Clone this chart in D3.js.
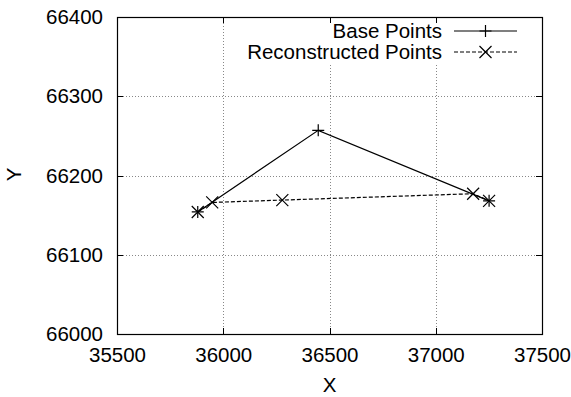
<!DOCTYPE html>
<html>
<head>
<meta charset="utf-8">
<script src="https://cdn.jsdelivr.net/npm/d3@7"></script>
<style>
  body { margin: 0; background: #fff; }
  svg { display: block; font-family: "Liberation Sans", Arial, sans-serif; }
</style>
</head>
<body>
<div id="chart"></div>
<script>
// base points (solid, "+")
var baseX = [35880, 36447, 37251];
var baseY = [66154, 66257, 66168];
// reconstructed points (dashed, "x")
var reconX = [35880, 35948, 36278, 37176, 37251];
var reconY = [66154, 66166, 66169, 66177, 66168];

var xTicks = [35500, 36000, 36500, 37000, 37500];
var yTicks = [66000, 66100, 66200, 66300, 66400];
var seriesNames = ["Base Points", "Reconstructed Points"];

var W = 571, H = 397;
var margin = {top: 17, right: 29, bottom: 63, left: 117},
    width = W - margin.left - margin.right,
    height = H - margin.top - margin.bottom;

var svg = d3.select("#chart").append("svg")
    .attr("width", W)
    .attr("height", H);

var g = svg.append("g")
    .attr("transform", "translate(" + margin.left + "," + margin.top + ")");

var x = d3.scaleLinear().domain([35500, 37500]).range([0, width]);
var y = d3.scaleLinear().domain([66000, 66400]).range([height, 0]);

// grid
g.append("g").selectAll("line")
    .data(xTicks.slice(1, -1))
    .enter().append("line")
    .attr("x1", function(d) { return Math.round(x(d)) + 0.5; })
    .attr("x2", function(d) { return Math.round(x(d)) + 0.5; })
    .attr("y1", 0).attr("y2", height)
    .attr("stroke", "#888").attr("stroke-dasharray", "1,2");
g.append("g").selectAll("line")
    .data(yTicks.slice(1, -1))
    .enter().append("line")
    .attr("y1", function(d) { return Math.round(y(d)) + 0.5; })
    .attr("y2", function(d) { return Math.round(y(d)) + 0.5; })
    .attr("x1", 0).attr("x2", width)
    .attr("stroke", "#888").attr("stroke-dasharray", "1,2");

// legend background (grid hidden behind key)
g.append("rect")
    .attr("x", 118).attr("y", 1)
    .attr("width", width - 120).attr("height", 46)
    .attr("fill", "#fff");

// axes: labels outside, ticks inward
var xAxis = d3.axisBottom(x).tickValues(xTicks).tickSize(0).tickPadding(13).tickFormat(d3.format("d"));
var yAxis = d3.axisLeft(y).tickValues(yTicks).tickSize(0).tickPadding(14).tickFormat(d3.format("d"));

g.append("g").attr("transform", "translate(0," + height + ")").call(xAxis)
    .call(function(s) { s.select(".domain").remove(); })
    .selectAll("text").style("font-size", "20.5px").attr("fill", "#000")
    .attr("font-family", "Liberation Sans, Arial, sans-serif");
g.append("g").call(yAxis)
    .call(function(s) { s.select(".domain").remove(); })
    .selectAll("text").style("font-size", "20.5px").attr("fill", "#000")
    .attr("font-family", "Liberation Sans, Arial, sans-serif");

// inward tick marks on all four sides
var tk = 6;
xTicks.forEach(function(t) {
  var px = Math.round(x(t)) + 0.5;
  g.append("line").attr("x1", px).attr("x2", px).attr("y1", height).attr("y2", height - tk).attr("stroke", "#000");
  g.append("line").attr("x1", px).attr("x2", px).attr("y1", 0).attr("y2", tk).attr("stroke", "#000");
});
yTicks.forEach(function(t) {
  var py = Math.round(y(t)) + 0.5;
  g.append("line").attr("y1", py).attr("y2", py).attr("x1", 0).attr("x2", tk).attr("stroke", "#000");
  g.append("line").attr("y1", py).attr("y2", py).attr("x1", width).attr("x2", width - tk).attr("stroke", "#000");
});

// frame
g.append("rect")
    .attr("x", 0.5).attr("y", 0.5)
    .attr("width", width).attr("height", height)
    .attr("fill", "none").attr("stroke", "#000").attr("stroke-width", 1.2);

// axis titles
svg.append("text")
    .attr("x", margin.left + width / 2).attr("y", H - 5)
    .attr("text-anchor", "middle").style("font-size", "20.5px")
    .text("X");
svg.append("text")
    .attr("transform", "translate(21," + (margin.top + height / 2 - 1) + ") rotate(-90)")
    .attr("text-anchor", "middle").style("font-size", "20.5px")
    .text("Y");

var line = d3.line()
    .x(function(d) { return x(d[0]); })
    .y(function(d) { return y(d[1]); });

var basePts = baseX.map(function(v, i) { return [v, baseY[i]]; });
var reconPts = reconX.map(function(v, i) { return [v, reconY[i]]; });

function plus(sel, s) {
  sel.append("path")
    .attr("d", "M" + (-s) + ",0H" + s + "M0," + (-s) + "V" + s)
    .attr("stroke", "#000").attr("stroke-width", 1.2).attr("fill", "none");
}
function cross(sel, s) {
  sel.append("path")
    .attr("d", "M" + (-s) + "," + (-s) + "L" + s + "," + s + "M" + (-s) + "," + s + "L" + s + "," + (-s))
    .attr("stroke", "#000").attr("stroke-width", 1.2).attr("fill", "none");
}

g.append("path").datum(basePts)
    .attr("d", line).attr("fill", "none").attr("stroke", "#000").attr("stroke-width", 1.2);
g.append("path").datum(reconPts)
    .attr("d", line).attr("fill", "none").attr("stroke", "#000").attr("stroke-width", 1.2)
    .attr("stroke-dasharray", "4,2");

g.selectAll(".bp").data(basePts).enter().append("g")
    .attr("class", "bp")
    .attr("transform", function(d) { return "translate(" + x(d[0]) + "," + y(d[1]) + ")"; })
    .each(function() { plus(d3.select(this), 6); });
g.selectAll(".rp").data(reconPts).enter().append("g")
    .attr("class", "rp")
    .attr("transform", function(d) { return "translate(" + x(d[0]) + "," + y(d[1]) + ")"; })
    .each(function() { cross(d3.select(this), 6); });

// legend
var legend = g.append("g");
seriesNames.forEach(function(name, i) {
  var ly = 14 + i * 21;
  legend.append("text")
    .attr("x", 325).attr("y", ly).attr("dy", "0.35em")
    .attr("text-anchor", "end").style("font-size", "20.5px")
    .text(name);
  legend.append("line")
    .attr("x1", 337).attr("x2", 400).attr("y1", ly).attr("y2", ly)
    .attr("stroke", "#000").attr("stroke-width", 1.2)
    .attr("stroke-dasharray", i === 0 ? null : "4,2");
  var m = legend.append("g").attr("transform", "translate(368.5," + ly + ")");
  if (i === 0) plus(m, 6); else cross(m, 6);
});
</script>
</body>
</html>
